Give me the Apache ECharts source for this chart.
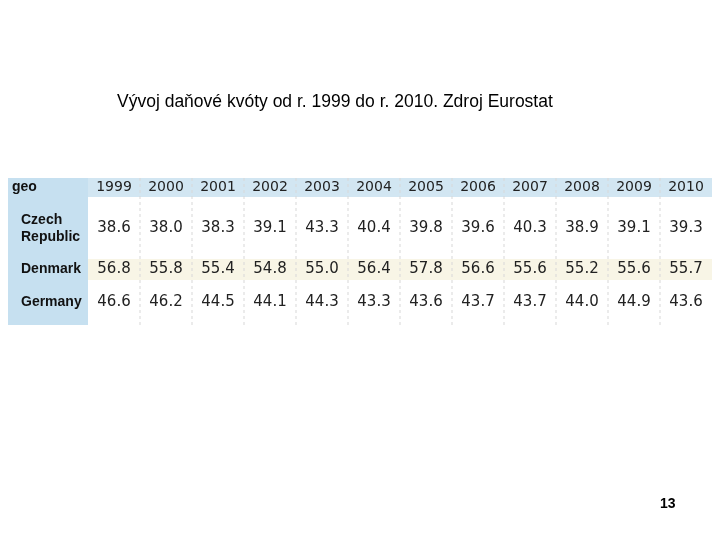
<!DOCTYPE html>
<html><head><meta charset="utf-8">
<script src="https://cdn.jsdelivr.net/npm/echarts@6/dist/echarts.min.js"></script>
<style>html,body{margin:0;background:#fff}#c{width:720px;height:540px}</style>
</head><body><div id="c"></div>
<script>
var years = ['1999','2000','2001','2002','2003','2004','2005','2006','2007','2008','2009','2010'];
var countries = ['Czech\nRepublic', 'Denmark', 'Germany'];
var czech = [38.6, 38.0, 38.3, 39.1, 43.3, 40.4, 39.8, 39.6, 40.3, 38.9, 39.1, 39.3];
var denmark = [56.8, 55.8, 55.4, 54.8, 55.0, 56.4, 57.8, 56.6, 55.6, 55.2, 55.6, 55.7];
var germany = [46.6, 46.2, 44.5, 44.1, 44.3, 43.3, 43.6, 43.7, 43.7, 44.0, 44.9, 43.6];
var values = [czech, denmark, germany];

// row bands (y units = px inside grid), header first
var rowTop = [0, 19, 81, 102];
var rowBot = [19, 81, 102, 147];
var colW = 52, firstW = 80;

var cells = [];
years.forEach(function (y, i) { cells.push([i, 0, y]); });
values.forEach(function (row, r) {
  row.forEach(function (v, i) { cells.push([i, r + 1, v.toFixed(1)]); });
});

function xOf(i) { return firstW + i * colW; }

var chart = echarts.init(document.getElementById('c'));
chart.setOption({
  animation: false,
  title: {
    text: 'Vývoj daňové kvóty od r. 1999 do r. 2010. Zdroj Eurostat',
    left: 112, top: 88,
    textStyle: { fontFamily: 'Liberation Sans', fontSize: 17.5, fontWeight: 'normal', color: '#000' }
  },
  graphic: [{
    type: 'text', left: 660, top: 497,
    style: { text: '13', font: 'bold 14px Liberation Sans', fill: '#000' }
  }],
  grid: { left: 8, right: 8, top: 178, bottom: 215 },
  xAxis: { type: 'value', min: 0, max: 704, show: false },
  yAxis: { type: 'value', min: 0, max: 147, inverse: true, show: false },
  series: [{
    type: 'custom',
    data: [0],
    renderItem: function (params, api) {
      var ch = [];
      var p0 = api.coord([0, 0]), p1 = api.coord([firstW, 147]);
      ch.push({ type: 'rect', shape: { x: p0[0], y: p0[1], width: p1[0] - p0[0], height: p1[1] - p0[1] }, style: { fill: '#c6e0f0' } });
      var h0 = api.coord([firstW, 0]), h1 = api.coord([704, 19]);
      ch.push({ type: 'rect', shape: { x: h0[0], y: h0[1], width: h1[0] - h0[0], height: h1[1] - h0[1] }, style: { fill: '#d2e6f2' } });
      var d0 = api.coord([firstW, rowTop[2]]), d1 = api.coord([704, rowBot[2]]);
      ch.push({ type: 'rect', shape: { x: d0[0], y: d0[1], width: d1[0] - d0[0], height: d1[1] - d0[1] }, style: { fill: '#f8f5e6' } });
      for (var i = 1; i < years.length; i++) {
        var a = api.coord([xOf(i), 0]), b = api.coord([xOf(i), 147]);
        ch.push({ type: 'line', shape: { x1: a[0], y1: a[1], x2: b[0], y2: b[1] }, style: { stroke: '#d8d8d8', lineWidth: 1, lineDash: [3, 3] } });
      }
      var g = api.coord([4, 9.5]);
      ch.push({ type: 'text', x: g[0], y: g[1], style: { text: 'geo', font: 'bold 14px Liberation Sans', fill: '#111', verticalAlign: 'middle' } });
      countries.forEach(function (c, r) {
        var pt = api.coord([13, (rowTop[r + 1] + rowBot[r + 1]) / 2 + (r === 0 ? 1 : 0)]);
        ch.push({ type: 'text', x: pt[0], y: pt[1], style: { text: c, font: 'bold 14px Liberation Sans', fill: '#111', verticalAlign: 'middle', lineHeight: 17 } });
      });
      return { type: 'group', children: ch };
    }
  }, {
    type: 'custom',
    data: cells,
    renderItem: function (params, api) {
      var i = api.value(0), r = api.value(1);
      var pt = api.coord([xOf(i) + colW / 2, (rowTop[r] + rowBot[r]) / 2]);
      return {
        type: 'text', x: pt[0], y: pt[1],
        style: { text: cells[params.dataIndex][2], font: (r === 0 ? 14 : 15) + 'px DejaVu Sans', fill: '#222', align: 'center', verticalAlign: 'middle' }
      };
    }
  }]
});
</script></body></html>
